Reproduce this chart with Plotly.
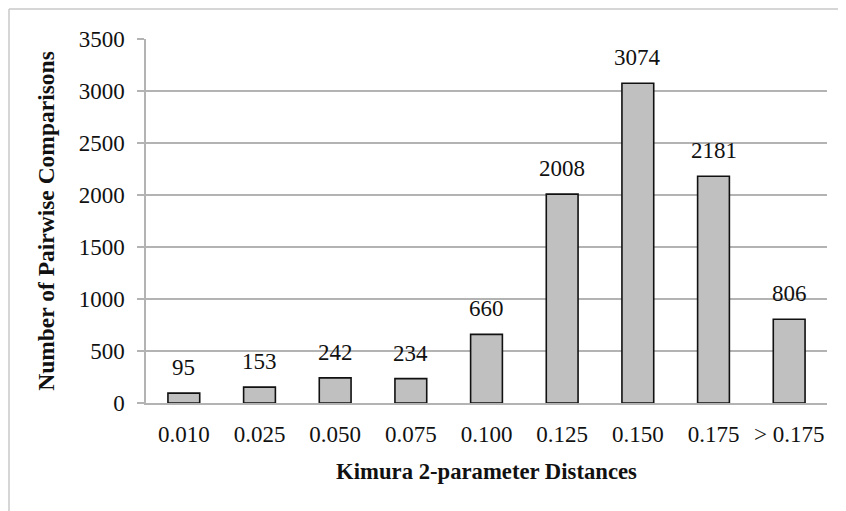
import plotly.graph_objects as go

categories = ["0.010", "0.025", "0.050", "0.075", "0.100", "0.125", "0.150", "0.175", "> 0.175"]
counts = [95, 153, 242, 234, 660, 2008, 3074, 2181, 806]
y_ticks = [0, 500, 1000, 1500, 2000, 2500, 3000, 3500]

# page body adds an 8px offset; margins are set so the plot area lands at
# x 146..827, y 39..403 in the window
OFF = 8
W, H = 846, 511
ML, MR, MT, MB = 146 - OFF, W + OFF - 827, 39 - OFF, H + OFF - 403
PW, PH = W - ML - MR, H - MT - MB

def px_to_paper_x(px):
    return (px - OFF - ML) / PW

def px_to_paper_y(py):
    return (H - MB - (py - OFF)) / PH

font_family = "Liberation Serif, Times New Roman, serif"
grid_col = "#b3b3b3"

fig = go.Figure()
fig.add_trace(go.Bar(
    x=categories, y=counts,
    marker=dict(color="#c0c0c0", line=dict(color="#111111", width=1.6)),
    width=0.42,
))

for i, v in enumerate(counts):
    fig.add_annotation(x=i, y=v, text=str(v), showarrow=False,
                       yanchor="bottom", yshift=11,
                       font=dict(family=font_family, size=23, color="#111111"))

# outer frame (left and top edges)
fig.add_shape(type="line", xref="paper", yref="paper",
              x0=px_to_paper_x(9), y0=px_to_paper_y(530), x1=px_to_paper_x(9), y1=px_to_paper_y(9),
              line=dict(color="#c8c8c8", width=1.5))
fig.add_shape(type="line", xref="paper", yref="paper",
              x0=px_to_paper_x(9), y0=px_to_paper_y(9), x1=px_to_paper_x(870), y1=px_to_paper_y(9),
              line=dict(color="#c8c8c8", width=1.5))

fig.update_layout(
    width=W, height=H,
    margin=dict(l=ML, r=MR, t=MT, b=MB),
    paper_bgcolor="white", plot_bgcolor="white",
    showlegend=False,
    font=dict(family=font_family, size=23, color="#111111"),
    xaxis=dict(
        type="category",
        showline=True, linecolor=grid_col, linewidth=1.5,
        showgrid=False, ticks="", ticklabelstandoff=10,
        tickfont=dict(family=font_family, size=23, color="#111111"),
        title=dict(text="<b>Kimura 2-parameter Distances</b>",
                   font=dict(family=font_family, size=22.7, color="#111111"),
                   standoff=17),
    ),
    yaxis=dict(
        range=[0, 3500], tickvals=y_ticks,
        showline=True, linecolor=grid_col, linewidth=1.5,
        showgrid=True, gridcolor=grid_col, gridwidth=1.5,
        zeroline=False,
        ticks="outside", ticklen=7, tickcolor=grid_col, tickwidth=1.5,
        ticklabelstandoff=8,
        tickfont=dict(family=font_family, size=23, color="#111111"),
        title=dict(text="<b>Number of Pairwise Comparisons</b>",
                   font=dict(family=font_family, size=23.5, color="#111111"),
                   standoff=17),
    ),
)

fig.write_html("out.html")
